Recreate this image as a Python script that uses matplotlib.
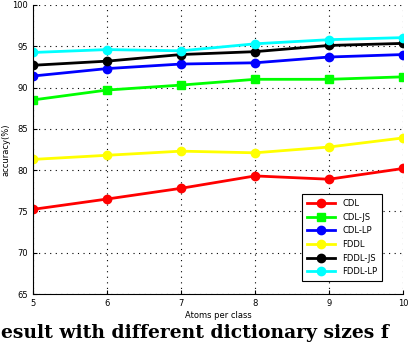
import matplotlib
matplotlib.use("Agg")
import matplotlib.pyplot as plt

atoms = [5, 6, 7, 8, 9, 10]
cdl = [75.25, 76.5, 77.8, 79.3, 78.9, 80.2]
cdl_js = [88.5, 89.7, 90.3, 91.0, 91.0, 91.3]
cdl_lp = [91.4, 92.3, 92.85, 93.0, 93.7, 94.0]
fddl = [81.3, 81.8, 82.3, 82.1, 82.8, 83.9]
fddl_js = [92.7, 93.2, 94.0, 94.35, 95.1, 95.35]
fddl_lp = [94.25, 94.6, 94.45, 95.3, 95.8, 96.05]

labels = ["CDL", "CDL-JS", "CDL-LP", "FDDL", "FDDL-JS", "FDDL-LP"]
series = [cdl, cdl_js, cdl_lp, fddl, fddl_js, fddl_lp]
colors = ["#ff0000", "#00ff00", "#0000ff", "#ffff00", "#000000", "#00ffff"]
markers = ["o", "s", "o", "o", "o", "o"]

xticks = [5, 6, 7, 8, 9, 10]
yticks = [65, 70, 75, 80, 85, 90, 95, 100]

fig = plt.figure(figsize=(4.1, 3.42), dpi=100)
ax = fig.add_axes([33/410, 1-294/342, 370/410, 289/342])

for vals, lab, c, m in zip(series, labels, colors, markers):
    ax.plot(atoms, vals, color=c, marker=m, markersize=6, linewidth=2, label=lab)

ax.set_xlim(5, 10)
ax.set_ylim(65, 100)
ax.set_xticks(xticks)
ax.set_yticks(yticks)
ax.tick_params(direction="in", labelsize=6, length=3, width=0.8)
ax.grid(True, linestyle=(0, (1, 4)), color="black", linewidth=0.8)
ax.spines["top"].set_visible(False)
ax.spines["right"].set_visible(False)
ax.set_xlabel("Atoms per class", fontsize=6, labelpad=2)
ax.set_ylabel("accuracy(%)", fontsize=6, labelpad=1)

leg = ax.legend(loc="lower right", bbox_to_anchor=(0.955, 0.03), fontsize=6,
                frameon=True, fancybox=False, edgecolor="black", framealpha=1,
                handlelength=3.4, borderpad=0.6, labelspacing=0.55)
leg.get_frame().set_linewidth(0.8)

fig.text(0.003, 4/342, "esult with different dictionary sizes f",
         fontsize=13.5, fontweight="bold", family="DejaVu Serif",
         ha="left", va="baseline")

fig.savefig("out.png", dpi=100)
